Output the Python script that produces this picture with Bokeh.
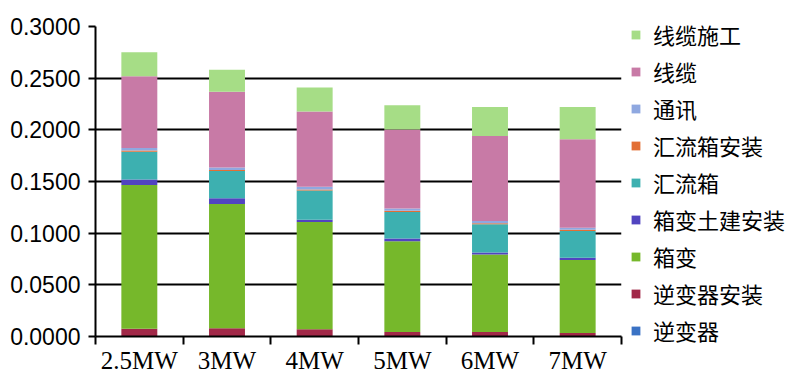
from bokeh.plotting import figure
from bokeh.models import (Range1d, FixedTicker, NumeralTickFormatter, Legend, LegendItem,
                          ColumnDataSource)
from bokeh.embed import file_html
from bokeh.resources import INLINE
import numpy as np

categories = ["2.5MW", "3MW", "4MW", "5MW", "6MW", "7MW"]
series_names = ["逆变器", "逆变器安装", "箱变", "箱变土建安装", "汇流箱",
                "汇流箱安装", "通讯", "线缆", "线缆施工"]
colors = ["#3A72C4", "#A12848", "#76B82B", "#5144C0", "#3DB0B0",
          "#E26F35", "#8FA8E0", "#C87AA6", "#A6DD86"]

inverter = [0.0004, 0.0004, 0.0004, 0.0004, 0.0004, 0.0004]
inverter_install = [0.0071, 0.0075, 0.0065, 0.0040, 0.0040, 0.0030]
box_transformer = [0.1390, 0.1203, 0.1040, 0.0878, 0.0749, 0.0707]
box_civil = [0.0055, 0.0055, 0.0020, 0.0026, 0.0020, 0.0020]
combiner = [0.0267, 0.0264, 0.0284, 0.0258, 0.0274, 0.0261]
combiner_install = [0.0012, 0.0010, 0.0010, 0.0010, 0.0010, 0.0010]
comms = [0.0025, 0.0025, 0.0025, 0.0022, 0.0020, 0.0020]
cable = [0.0694, 0.0733, 0.0729, 0.0765, 0.0823, 0.0856]
cable_work = [0.0232, 0.0213, 0.0232, 0.0235, 0.0281, 0.0313]

values = [inverter, inverter_install, box_transformer, box_civil, combiner,
          combiner_install, comms, cable, cable_work]

keys = [f"s{i}" for i in range(len(series_names))]
data = {"x": list(np.arange(len(categories)) + 0.5)}
for k, v in zip(keys, values):
    data[k] = v
source = ColumnDataSource(data)

p = figure(frame_width=526, frame_height=310, output_backend="svg", toolbar_location=None,
           x_range=Range1d(0, len(categories)), y_range=Range1d(0, 0.3),
           min_border_left=95, min_border_top=26, min_border_right=0,
           min_border_bottom=40)
p.outline_line_color = None

renderers = p.vbar_stack(keys, x="x", width=0.41, source=source,
                         color=colors, line_color=None)

# y axis
p.yaxis.ticker = FixedTicker(ticks=[0, 0.05, 0.1, 0.15, 0.2, 0.25, 0.3])
p.yaxis.formatter = NumeralTickFormatter(format="0.0000")
p.yaxis.axis_line_color = "black"
p.yaxis.axis_line_width = 2
p.yaxis.major_tick_line_color = "black"
p.yaxis.major_tick_line_width = 2
p.yaxis.major_tick_out = 7
p.yaxis.major_tick_in = 0
p.yaxis.minor_tick_line_color = None
p.yaxis.major_label_standoff = 8
p.yaxis.major_label_text_font = "Liberation Sans"
p.yaxis.major_label_text_font_size = "23px"
p.yaxis.major_label_text_color = "black"

# x axis: labels at centers, ticks between categories
centers = list(np.arange(len(categories)) + 0.5)
p.xaxis.ticker = FixedTicker(ticks=centers, minor_ticks=list(range(len(categories) + 1)))
p.xaxis.major_label_overrides = {c: lab for c, lab in zip(centers, categories)}
p.xaxis.major_tick_line_color = None
p.xaxis.major_tick_out = 0
p.xaxis.major_tick_in = 0
p.xaxis.minor_tick_line_color = "black"
p.xaxis.minor_tick_line_width = 2
p.xaxis.minor_tick_out = 8
p.xaxis.minor_tick_in = 0
p.xaxis.axis_line_color = "black"
p.xaxis.axis_line_width = 2
p.xaxis.major_label_standoff = 2
p.xaxis.major_label_text_font = "Liberation Serif"
p.xaxis.major_label_text_font_size = "25px"
p.xaxis.major_label_text_color = "black"

p.xgrid.grid_line_color = None
p.ygrid.grid_line_color = "black"
p.ygrid.grid_line_width = 2

items = [LegendItem(label=n, renderers=[r]) for n, r in zip(series_names, renderers)]
items.reverse()
legend = Legend(items=items, location=(9, -10))
legend.label_text_font = "Noto Sans CJK SC"
legend.label_text_font_size = "22px"
legend.label_text_color = "black"
legend.glyph_width = 11
legend.glyph_height = 11
legend.label_standoff = 12
legend.label_height = 30
legend.spacing = 5
legend.padding = 0
legend.margin = 0
legend.border_line_color = None
legend.background_fill_alpha = 0
p.add_layout(legend, "right")

open("out.html", "w").write(file_html(p, INLINE))
